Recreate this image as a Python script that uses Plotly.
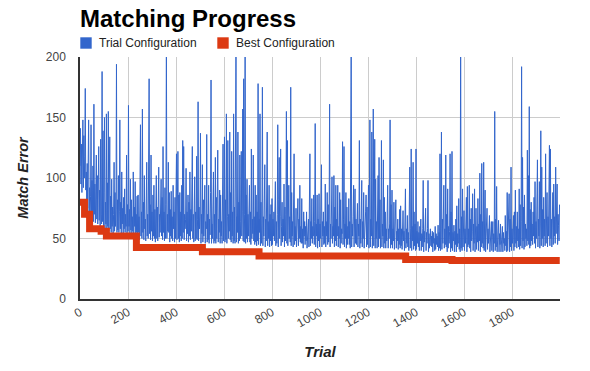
import plotly.graph_objects as go

# match error of every second trial (trial 0, 2, 4, ... 1998)
trial_step = 2

trial_error = [
    110, 141, 95, 128, 88, 120, 148, 92, 135, 100,
    118, 174, 90, 105, 82, 112, 75, 96, 148, 70,
    92, 68, 85, 144, 66, 98, 72, 110, 64, 161,
    70, 95, 63, 88, 119, 66, 102, 62, 85, 126,
    65, 90, 60, 132, 70, 62, 188, 64, 139, 60,
    88, 150, 58, 80, 62, 153, 57, 96, 60, 155,
    56, 78, 134, 58, 85, 55, 99, 60, 76, 54,
    70, 113, 56, 88, 60, 74, 194, 55, 82, 57,
    102, 55, 72, 148, 58, 80, 54, 105, 62, 75,
    54, 84, 58, 91, 55, 70, 60, 119, 53, 78,
    56, 160, 60, 74, 53, 99, 57, 82, 52, 68,
    56, 105, 54, 76, 60, 97, 52, 70, 55, 85,
    50, 86, 55, 68, 49, 78, 144, 52, 72, 50,
    157, 55, 80, 49, 102, 58, 66, 48, 75, 113,
    52, 70, 50, 135, 182, 54, 78, 49, 119, 56,
    72, 48, 86, 52, 94, 50, 74, 47, 68, 102,
    50, 76, 48, 90, 109, 51, 70, 55, 80, 99,
    52, 84, 49, 126, 55, 72, 48, 92, 50, 78,
    215, 50, 70, 56, 113, 55, 88, 47, 74, 52,
    89, 50, 68, 48, 94, 58, 72, 47, 84, 50,
    76, 120, 49, 70, 122, 50, 86, 47, 88, 52,
    72, 48, 94, 50, 131, 55, 126, 49, 70, 58,
    66, 108, 48, 72, 54, 86, 47, 80, 52, 105,
    49, 74, 56, 92, 126, 50, 70, 47, 84, 101,
    48, 72, 50, 118, 49, 66, 163, 48, 76, 58,
    68, 137, 46, 70, 54, 111, 47, 82, 52, 74,
    94, 46, 64, 58, 136, 47, 70, 49, 94, 46,
    66, 53, 88, 181, 46, 62, 50, 78, 105, 46,
    70, 48, 117, 46, 84, 50, 72, 123, 47, 66,
    55, 90, 46, 86, 52, 64, 46, 74, 128, 48,
    66, 134, 47, 82, 49, 153, 46, 68, 131, 50,
    70, 56, 138, 49, 88, 47, 122, 52, 72, 46,
    153, 48, 76, 46, 96, 215, 47, 68, 55, 138,
    46, 80, 48, 119, 50, 64, 122, 52, 72, 157,
    48, 182, 47, 70, 215, 46, 86, 50, 99, 47,
    70, 52, 82, 94, 47, 72, 45, 124, 50, 66,
    54, 119, 48, 68, 45, 94, 47, 86, 44, 72,
    48, 178, 45, 66, 55, 153, 44, 80, 46, 62,
    175, 44, 68, 52, 84, 111, 43, 66, 48, 90,
    138, 44, 64, 50, 94, 43, 70, 48, 78, 44,
    83, 45, 66, 52, 72, 48, 86, 97, 44, 64,
    46, 70, 144, 43, 82, 117, 50, 68, 124, 44,
    60, 80, 47, 66, 52, 95, 43, 76, 48, 70,
    155, 46, 131, 44, 62, 94, 50, 68, 47, 175,
    44, 88, 52, 64, 43, 84, 120, 45, 60, 48,
    75, 43, 62, 54, 83, 44, 66, 50, 94, 47,
    60, 46, 83, 46, 58, 42, 72, 52, 64, 45,
    60, 48, 72, 42, 58, 50, 66, 43, 78, 120,
    44, 64, 50, 83, 46, 60, 52, 86, 45, 64,
    145, 43, 62, 52, 86, 42, 66, 48, 87, 43,
    62, 50, 74, 111, 43, 64, 52, 72, 45, 60,
    46, 95, 43, 64, 52, 88, 45, 78, 47, 66,
    161, 43, 62, 50, 68, 101, 46, 60, 52, 102,
    43, 76, 48, 94, 44, 66, 52, 94, 43, 60,
    50, 88, 42, 82, 46, 58, 54, 130, 45, 66,
    126, 43, 62, 50, 88, 42, 76, 45, 60, 50,
    83, 45, 64, 42, 155, 215, 43, 62, 52, 68,
    94, 43, 74, 91, 46, 66, 45, 58, 79, 43,
    62, 52, 131, 42, 66, 46, 84, 98, 43, 64,
    50, 88, 42, 62, 52, 72, 86, 43, 76, 45,
    64, 94, 42, 80, 148, 43, 66, 52, 138, 42,
    62, 157, 44, 76, 132, 42, 99, 50, 64, 42,
    60, 102, 43, 117, 50, 82, 42, 58, 131, 43,
    62, 52, 115, 42, 84, 46, 72, 42, 58, 48,
    64, 94, 42, 58, 50, 62, 148, 42, 78, 45,
    90, 42, 58, 48, 80, 41, 60, 50, 82, 42,
    56, 48, 66, 41, 58, 45, 74, 42, 77, 44,
    58, 41, 62, 73, 48, 56, 40, 68, 91, 42,
    58, 46, 69, 43, 55, 40, 62, 109, 42, 58,
    124, 40, 60, 48, 113, 41, 72, 44, 62, 40,
    124, 41, 56, 46, 64, 43, 55, 40, 60, 48,
    66, 40, 54, 43, 58, 98, 39, 56, 47, 60,
    75, 40, 55, 46, 58, 98, 39, 54, 42, 50,
    58, 44, 52, 43, 56, 39, 55, 46, 50, 40,
    60, 41, 54, 45, 52, 43, 61, 40, 55, 42,
    120, 40, 58, 138, 41, 66, 46, 62, 94, 42,
    58, 45, 119, 43, 70, 39, 91, 42, 60, 46,
    56, 120, 39, 72, 42, 122, 40, 55, 48, 61,
    39, 56, 45, 66, 39, 77, 43, 54, 46, 83,
    41, 58, 39, 215, 42, 68, 40, 91, 43, 60,
    73, 40, 58, 46, 70, 84, 39, 93, 43, 58,
    45, 94, 42, 66, 39, 75, 48, 56, 87, 40,
    62, 46, 91, 39, 72, 75, 41, 60, 47, 83,
    40, 62, 48, 104, 39, 70, 43, 112, 46, 64,
    42, 113, 40, 76, 90, 39, 56, 48, 75, 41,
    58, 46, 55, 69, 39, 56, 48, 64, 40, 52,
    64, 39, 54, 46, 155, 40, 66, 43, 93, 39,
    56, 47, 65, 39, 54, 45, 62, 39, 52, 46,
    60, 39, 55, 46, 50, 40, 69, 44, 56, 39,
    88, 40, 58, 48, 87, 39, 66, 43, 109, 40,
    58, 46, 62, 69, 40, 72, 43, 90, 46, 60,
    42, 72, 48, 58, 43, 91, 41, 78, 44, 64,
    192, 42, 117, 48, 76, 41, 86, 43, 62, 50,
    58, 44, 123, 48, 102, 45, 159, 42, 74, 44,
    80, 48, 62, 45, 72, 52, 84, 46, 97, 42,
    64, 50, 78, 115, 43, 66, 52, 97, 42, 62,
    139, 44, 109, 50, 74, 43, 84, 52, 66, 44,
    120, 46, 76, 88, 43, 68, 52, 82, 127, 44,
    124, 50, 66, 43, 80, 88, 45, 95, 52, 68,
    46, 109, 54, 66, 95, 45, 70, 61, 48, 78,
]
trials = list(range(0, len(trial_error) * trial_step, trial_step))

# best configuration found so far (changes only)
best_trials = [0, 19, 40, 88, 110, 235, 510, 746, 1357, 1550, 1999]
best_error = [80, 70, 58, 56, 52, 42.5, 39, 35.5, 32.6, 31.8, 31.8]

x_ticks = [0, 200, 400, 600, 800, 1000, 1200, 1400, 1600, 1800]
y_ticks = [0, 50, 100, 150, 200]

FONT = "Arial, Liberation Sans, sans-serif"
BLUE = "#3366cc"
RED = "#dc3912"

W, H = 590, 371
L, R, T, B = 80, 30, 57, 72


def px_x(p):
    return (p - L) / (W - L - R)


def px_y(p):
    return (H - B - p) / (H - T - B)


fig = go.Figure()

fig.add_trace(go.Scatter(
    x=trials, y=trial_error, mode="lines", name="Trial Configuration",
    line=dict(color=BLUE, width=1), showlegend=False,
))
fig.add_trace(go.Scatter(
    x=best_trials, y=best_error, mode="lines", name="Best Configuration",
    line=dict(color=RED, width=7, shape="hv"), showlegend=False,
))

# legend drawn by hand (square swatches like the original)
legend_items = [("Trial Configuration", BLUE, 80.3), ("Best Configuration", RED, 217.3)]
shapes = []
annotations = []
for label, color, x0 in legend_items:
    shapes.append(dict(
        type="rect", xref="paper", yref="paper",
        x0=px_x(x0), x1=px_x(x0 + 11.4), y0=px_y(48.7), y1=px_y(37.3),
        fillcolor=color, line=dict(width=0),
    ))
    annotations.append(dict(
        text=label, xref="paper", yref="paper", x=px_x(x0 + 16.4), y=px_y(43),
        xanchor="left", yanchor="middle", showarrow=False,
        font=dict(family=FONT, size=12, color="#222222"),
    ))

fig.update_layout(
    width=W, height=H,
    margin=dict(l=L, r=R, t=T, b=B, autoexpand=False),
    paper_bgcolor="white", plot_bgcolor="white",
    title=dict(
        text="Matching Progress", x=L / W, xref="container", xanchor="left",
        y=1 - 18.5 / H, yref="container", yanchor="middle",
        font=dict(family=FONT, size=24, color="#000000", weight="bold"),
    ),
    shapes=shapes,
    annotations=annotations,
    xaxis=dict(
        range=[0, 2000], tickvals=x_ticks, tickangle=-30, automargin=False,
        showgrid=True, gridcolor="#cccccc", gridwidth=1,
        showline=True, linecolor="#333333", linewidth=1.5, zeroline=False,
        tickfont=dict(family=FONT, size=12, color="#444444"),
        title=dict(text="Trial", standoff=17,
                   font=dict(family=FONT, size=15, color="#222222", weight="bold", style="italic")),
    ),
    yaxis=dict(
        range=[0, 200], tickvals=y_ticks, automargin=False,
        showgrid=True, gridcolor="#cccccc", gridwidth=1,
        showline=True, linecolor="#333333", linewidth=1.5, zeroline=False,
        ticks="outside", ticklen=10, tickcolor="rgba(0,0,0,0)",
        tickfont=dict(family=FONT, size=12, color="#444444"),
        title=dict(text="Match Error", standoff=14,
                   font=dict(family=FONT, size=14.5, color="#222222", weight="bold", style="italic")),
    ),
)

fig.write_html(
    "out.html",
    config={"displayModeBar": False},
    post_script="document.body.style.margin = '0';",
)
